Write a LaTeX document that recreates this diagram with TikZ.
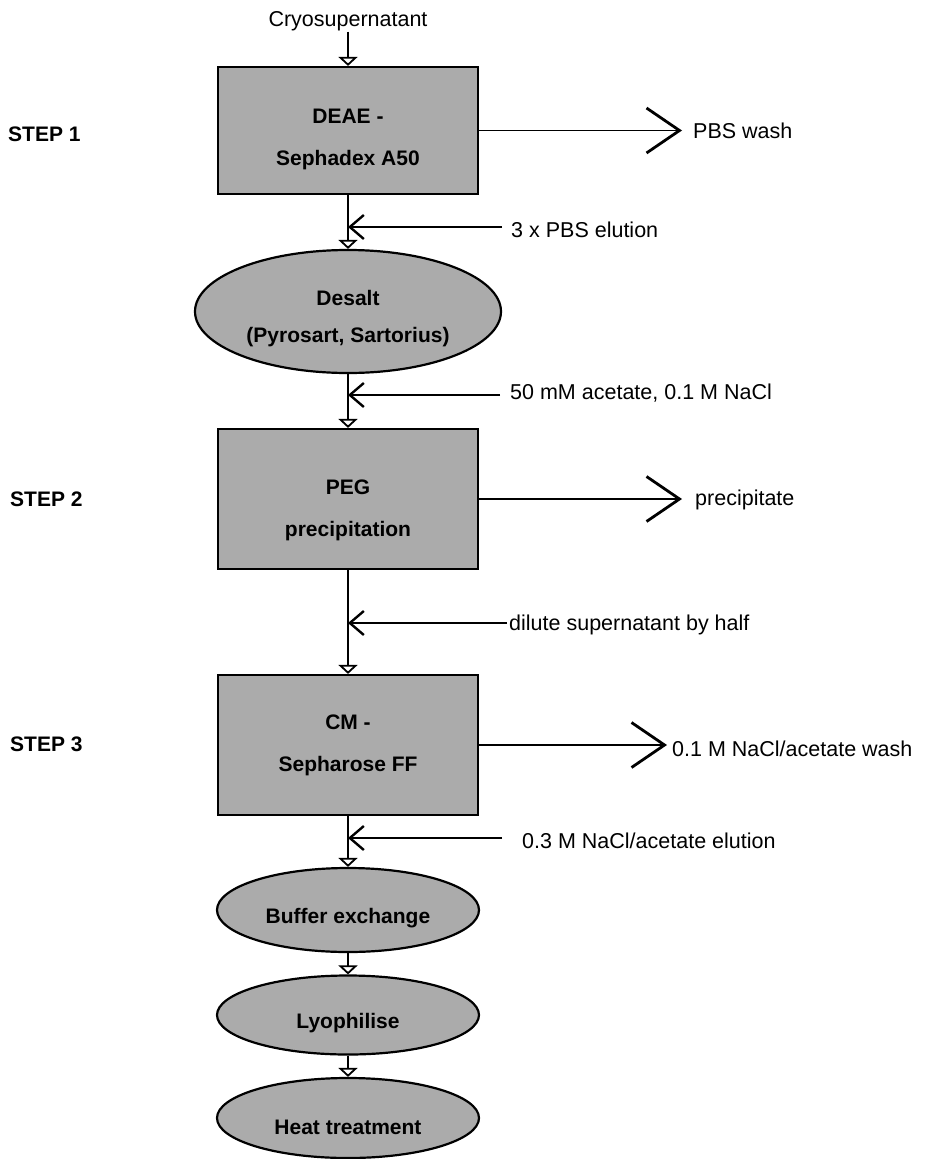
\documentclass[tikz,border=0pt]{standalone}
\usepackage{fontspec}
\setmainfont{Liberation Sans}
\usetikzlibrary{arrows.meta,shapes.geometric}
\newcommand{\lowerby}[1]{\rule{0pt}{#1}}
\begin{document}
\begin{tikzpicture}[x=1pt,y=-1pt,
  lbl/.style={font=\fontsize{21.5}{25}\selectfont, inner sep=0pt, anchor=base west},
  steplbl/.style={font=\fontsize{21}{25}\selectfont\bfseries, inner sep=0pt, anchor=base west},
  procbox/.style={draw, line width=2.2pt, fill=black!33, minimum width=260pt, inner sep=0pt,
    font=\fontsize{21}{42}\selectfont\bfseries, align=center},
  procell/.style={ellipse, draw, line width=2.2pt, fill=black!33, inner sep=0pt,
    font=\fontsize{21}{37}\selectfont\bfseries, align=center},
  flow/.style={line width=1.8pt, -{Triangle[open, length=9pt, width=19pt, line width=1.8pt]}},
  feed/.style={line width=1.7pt, -{Straight Barb[length=14pt, width=24pt, line width=2.4pt]}},
  drain/.style={line width=1.7pt, -{Straight Barb[length=33pt, width=45pt, line width=2.8pt]}},
]
\useasboundingbox (0,0) rectangle (929,1159);

% main column
\node[font=\fontsize{21.5}{25}\selectfont, inner sep=0pt, anchor=base] (cryo) at (348,27) {Cryosupernatant};
\node[procbox, minimum height=127pt] (b1) at (348,130.5) {\lowerby{33pt}DEAE -\\Sephadex A50};
\node[procell, minimum width=306pt, minimum height=123pt] (e1) at (348,311.5) {\lowerby{29pt}Desalt\\(Pyrosart, Sartorius)};
\node[procbox, minimum height=140pt] (b2) at (348,499) {\lowerby{37pt}PEG\\precipitation};
\node[procbox, minimum height=140pt] (b3) at (348,745) {CM -\\Sepharose FF};
\node[procell, minimum width=262pt, minimum height=84pt] (buf) at (348,910) {\lowerby{31pt}Buffer exchange};
\node[procell, minimum width=262pt, minimum height=79pt] (lyo) at (348,1015) {\lowerby{32pt}Lyophilise};
\node[procell, minimum width=262pt, minimum height=80pt] (heat) at (348,1118) {\lowerby{33pt}Heat treatment};

% step labels
\node[steplbl] (s1) at (8,141) {STEP 1};
\node[steplbl] (s2) at (10,506) {STEP 2};
\node[steplbl] (s3) at (10,751) {STEP 3};

% side labels
\node[lbl] (w1) at (693,138) {PBS wash};
\node[lbl] (f1) at (511,237) {3 x PBS elution};
\node[lbl] (f2) at (510,399) {50 mM acetate, 0.1 M NaCl};
\node[lbl] (w2) at (695,505) {precipitate};
\node[lbl] (f3) at (509,630) {dilute supernatant by half};
\node[lbl] (w3) at (672,756) {0.1 M NaCl/acetate wash};
\node[lbl] (f4) at (522,848) {0.3 M NaCl/acetate elution};

% junctions on the main line
\coordinate (j1) at (348,227);
\coordinate (j2) at (348,395);
\coordinate (j3) at (348,623);
\coordinate (j4) at (348,838);

% main flow
\draw[flow] (cryo.south) -- (b1.north);
\draw[flow] (b1.south) -- (e1.north);
\draw[flow] (e1.south) -- (b2.north);
\draw[flow] (b2.south) -- (b3.north);
\draw[flow] (b3.south) -- (buf.north);
\draw[flow] (buf.south) -- (lyo.north);
\draw[flow] (lyo.south) -- (heat.north);

% feeds
\draw[feed, shorten <=9pt] (j1 -| f1.west) -- (j1);
\draw[feed, shorten <=10pt] (j2 -| f2.west) -- (j2);
\draw[feed, shorten <=2pt] (j3 -| f3.west) -- (j3);
\draw[feed, shorten <=20pt] (j4 -| f4.west) -- (j4);

% drains
\draw[drain, shorten >=11pt] (b1.east) -- (b1.east -| w1.west);
\draw[drain, shorten >=13pt] (b2.east) -- (b2.east -| w2.west);
\draw[drain, shorten >=5pt] (b3.east) -- (b3.east -| w3.west);
\end{tikzpicture}
\end{document}
